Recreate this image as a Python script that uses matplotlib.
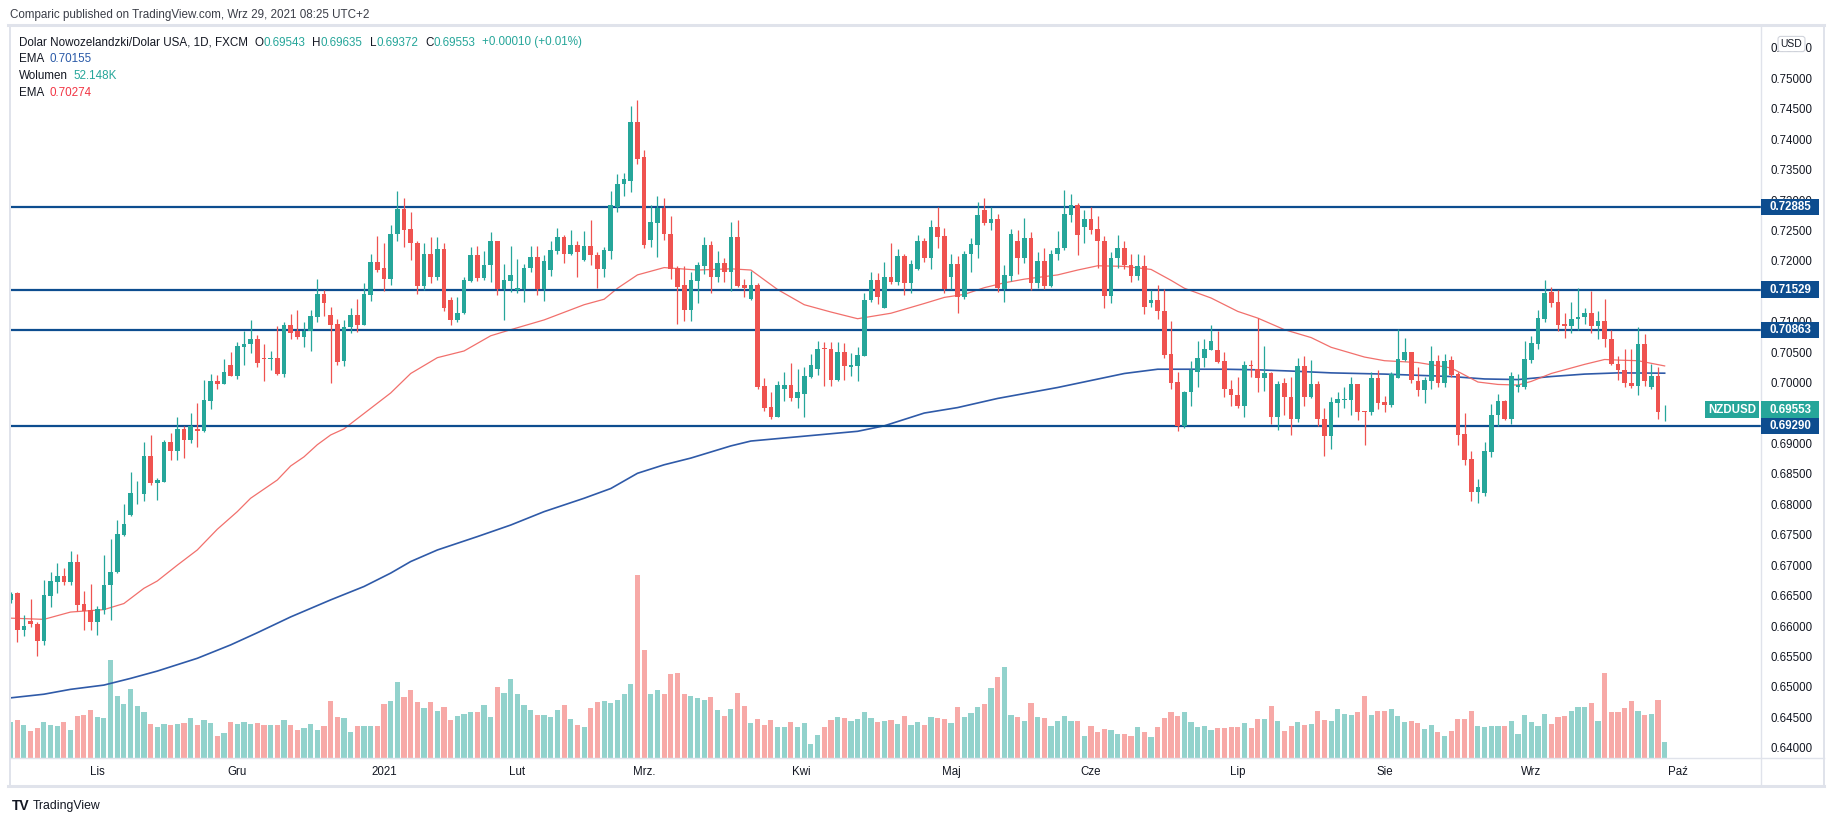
import numpy as np
import matplotlib
matplotlib.use("Agg")
import matplotlib.pyplot as plt
from matplotlib.lines import Line2D
from matplotlib.patches import Rectangle

plt.rcParams['font.family'] = ['Liberation Sans', 'DejaVu Sans']

# ---- data ----
# daily candles NZDUSD, mid Oct 2020 .. 29 Sep 2021
opens = [0.6642, 0.6655, 0.6594, 0.6608, 0.6603, 0.6576, 0.6650, 0.6673, 0.6683, 0.6673,
         0.6706, 0.6636, 0.6626, 0.6607, 0.6626, 0.6667, 0.6688, 0.6750, 0.6782, 0.6818,
         0.6817, 0.6879, 0.6835, 0.6837, 0.6902, 0.6888, 0.6924, 0.6906, 0.6923, 0.6921,
         0.6970, 0.7003, 0.6998, 0.7029, 0.7011, 0.7059, 0.7064, 0.7072, 0.7040, 0.7038,
         0.7040, 0.7014, 0.7095, 0.7084, 0.7075, 0.7084, 0.7108, 0.7146, 0.7111, 0.7096,
         0.7035, 0.7091, 0.7111, 0.7094, 0.7144, 0.7198, 0.7188, 0.7170, 0.7244, 0.7286,
         0.7252, 0.7229, 0.7159, 0.7211, 0.7174, 0.7220, 0.7136, 0.7103, 0.7115, 0.7167,
         0.7210, 0.7172, 0.7194, 0.7232, 0.7154, 0.7167, 0.7152, 0.7154, 0.7189, 0.7207,
         0.7154, 0.7185, 0.7216, 0.7239, 0.7211, 0.7226, 0.7202, 0.7224, 0.7210, 0.7187,
         0.7217, 0.7288, 0.7327, 0.7332, 0.7429, 0.7370, 0.7234, 0.7263, 0.7287, 0.7245,
         0.7188, 0.7160, 0.7120, 0.7167, 0.7192, 0.7226, 0.7173, 0.7196, 0.7182, 0.7239,
         0.7160, 0.7137, 0.7160, 0.6994, 0.6960, 0.6944, 0.6989, 0.6996, 0.6974, 0.6981,
         0.7010, 0.7022, 0.7056, 0.7055, 0.7004, 0.7051, 0.7025, 0.7027, 0.7044, 0.7135,
         0.7169, 0.7123, 0.7174, 0.7166, 0.7208, 0.7164, 0.7187, 0.7233, 0.7204, 0.7255,
         0.7241, 0.7174, 0.7195, 0.7140, 0.7212, 0.7226, 0.7284, 0.7263, 0.7269, 0.7153,
         0.7175, 0.7232, 0.7205, 0.7237, 0.7164, 0.7200, 0.7159, 0.7212, 0.7222, 0.7276,
         0.7292, 0.7255, 0.7269, 0.7252, 0.7233, 0.7143, 0.7204, 0.7222, 0.7193, 0.7176,
         0.7192, 0.7131, 0.7136, 0.7118, 0.7047, 0.7001, 0.6928, 0.6984, 0.7018, 0.7040,
         0.7054, 0.7054, 0.7036, 0.6989, 0.6980, 0.6962, 0.7028, 0.7023, 0.7008, 0.7016,
         0.6944, 0.7000, 0.6976, 0.6940, 0.7027, 0.6976, 0.6998, 0.6941, 0.6913, 0.6967,
         0.6972, 0.6972, 0.6998, 0.6953, 0.6952, 0.7007, 0.6968, 0.6963, 0.7008, 0.7037,
         0.7050, 0.7003, 0.6988, 0.7003, 0.7036, 0.7000, 0.7037, 0.7014, 0.6915, 0.6874,
         0.6821, 0.6819, 0.6886, 0.6946, 0.6970, 0.6940, 0.6992, 0.6993, 0.7037, 0.7063,
         0.7104, 0.7149, 0.7132, 0.7096, 0.7093, 0.7104, 0.7108, 0.7115, 0.7093, 0.7101,
         0.7072, 0.7030, 0.7021, 0.7000, 0.6995, 0.7063, 0.6992, 0.7011, 0.69543]
highs = [0.6656, 0.6656, 0.6618, 0.6645, 0.6606, 0.6676, 0.6688, 0.6704, 0.6695, 0.6724,
         0.6718, 0.6658, 0.6669, 0.6633, 0.6717, 0.6743, 0.6775, 0.6801, 0.6853, 0.6839,
         0.6903, 0.6914, 0.6843, 0.6906, 0.6917, 0.6944, 0.6928, 0.6950, 0.6966, 0.7004,
         0.7014, 0.7012, 0.7039, 0.7050, 0.7067, 0.7085, 0.7103, 0.7078, 0.7063, 0.7052,
         0.7093, 0.7099, 0.7113, 0.7119, 0.7099, 0.7119, 0.7170, 0.7152, 0.7124, 0.7104,
         0.7103, 0.7122, 0.7138, 0.7163, 0.7211, 0.7241, 0.7229, 0.7259, 0.7315, 0.7304,
         0.7281, 0.7233, 0.7230, 0.7239, 0.7239, 0.7229, 0.7140, 0.7140, 0.7174, 0.7223,
         0.7224, 0.7217, 0.7248, 0.7232, 0.7195, 0.7224, 0.7203, 0.7195, 0.7224, 0.7224,
         0.7210, 0.7232, 0.7254, 0.7242, 0.7251, 0.7233, 0.7249, 0.7267, 0.7214, 0.7223,
         0.7315, 0.7343, 0.7345, 0.7455, 0.7464, 0.7382, 0.7292, 0.7307, 0.7304, 0.7273,
         0.7192, 0.7192, 0.7182, 0.7199, 0.7239, 0.7233, 0.7217, 0.7204, 0.7264, 0.7268,
         0.7170, 0.7184, 0.7164, 0.7007, 0.6985, 0.7002, 0.7018, 0.7032, 0.7023, 0.7026,
         0.7047, 0.7069, 0.7067, 0.7067, 0.7067, 0.7065, 0.7048, 0.7058, 0.7148, 0.7181,
         0.7180, 0.7199, 0.7230, 0.7219, 0.7212, 0.7202, 0.7243, 0.7237, 0.7267, 0.7288,
         0.7254, 0.7211, 0.7208, 0.7216, 0.7237, 0.7297, 0.7304, 0.7288, 0.7277, 0.7193,
         0.7253, 0.7250, 0.7270, 0.7247, 0.7215, 0.7221, 0.7218, 0.7249, 0.7316, 0.7310,
         0.7295, 0.7284, 0.7288, 0.7273, 0.7241, 0.7215, 0.7243, 0.7233, 0.7212, 0.7211,
         0.7210, 0.7152, 0.7160, 0.7153, 0.7102, 0.7018, 0.6986, 0.7036, 0.7068, 0.7071,
         0.7095, 0.7085, 0.7050, 0.7005, 0.7009, 0.7036, 0.7037, 0.7106, 0.7060, 0.7018,
         0.7003, 0.7007, 0.7009, 0.7041, 0.7044, 0.7037, 0.7003, 0.6958, 0.6977, 0.6985,
         0.6992, 0.7010, 0.6998, 0.6954, 0.7018, 0.7021, 0.6978, 0.7018, 0.7088, 0.7073,
         0.7051, 0.7026, 0.7010, 0.7060, 0.7045, 0.7047, 0.7044, 0.7018, 0.6950, 0.6888,
         0.6841, 0.6902, 0.6965, 0.6981, 0.6971, 0.7018, 0.7014, 0.7069, 0.7077, 0.7119,
         0.7169, 0.7157, 0.7152, 0.7114, 0.7132, 0.7155, 0.7122, 0.7151, 0.7118, 0.7138,
         0.7086, 0.7044, 0.7055, 0.7055, 0.7092, 0.7080, 0.7031, 0.7025, 0.69635]
lows = [0.6638, 0.6573, 0.6584, 0.6599, 0.6550, 0.6569, 0.6632, 0.6654, 0.6667, 0.6667,
        0.6624, 0.6594, 0.6594, 0.6585, 0.6620, 0.6610, 0.6687, 0.6748, 0.6781, 0.6801,
        0.6806, 0.6832, 0.6807, 0.6836, 0.6873, 0.6873, 0.6876, 0.6901, 0.6895, 0.6919,
        0.6957, 0.6990, 0.6998, 0.7011, 0.7006, 0.7029, 0.7049, 0.7026, 0.7003, 0.7021,
        0.7013, 0.7009, 0.7072, 0.7072, 0.7058, 0.7052, 0.7100, 0.7109, 0.7000, 0.7029,
        0.7028, 0.7081, 0.7083, 0.7094, 0.7134, 0.7181, 0.7151, 0.7160, 0.7233, 0.7223,
        0.7202, 0.7145, 0.7152, 0.7163, 0.7169, 0.7117, 0.7094, 0.7100, 0.7112, 0.7165,
        0.7167, 0.7169, 0.7165, 0.7144, 0.7103, 0.7149, 0.7148, 0.7133, 0.7182, 0.7144,
        0.7134, 0.7176, 0.7212, 0.7197, 0.7210, 0.7174, 0.7200, 0.7194, 0.7156, 0.7174,
        0.7203, 0.7280, 0.7306, 0.7313, 0.7359, 0.7221, 0.7223, 0.7207, 0.7235, 0.7171,
        0.7097, 0.7102, 0.7102, 0.7130, 0.7178, 0.7148, 0.7166, 0.7166, 0.7151, 0.7157,
        0.7141, 0.7136, 0.6989, 0.6954, 0.6941, 0.6944, 0.6969, 0.6969, 0.6959, 0.6944,
        0.7007, 0.7013, 0.6995, 0.6994, 0.7002, 0.7005, 0.7011, 0.7002, 0.7043, 0.7133,
        0.7129, 0.7122, 0.7162, 0.7160, 0.7144, 0.7148, 0.7185, 0.7199, 0.7187, 0.7221,
        0.7148, 0.7153, 0.7114, 0.7137, 0.7182, 0.7204, 0.7259, 0.7250, 0.7149, 0.7133,
        0.7167, 0.7178, 0.7196, 0.7152, 0.7155, 0.7153, 0.7157, 0.7202, 0.7218, 0.7264,
        0.7210, 0.7230, 0.7244, 0.7189, 0.7123, 0.7131, 0.7189, 0.7186, 0.7166, 0.7168,
        0.7113, 0.7124, 0.7104, 0.7041, 0.6989, 0.6921, 0.6926, 0.6961, 0.6993, 0.7026,
        0.7053, 0.7032, 0.6977, 0.6962, 0.6958, 0.6944, 0.7010, 0.6985, 0.6987, 0.6932,
        0.6922, 0.6946, 0.6914, 0.6936, 0.6961, 0.6974, 0.6928, 0.6879, 0.6891, 0.6944,
        0.6959, 0.6946, 0.6938, 0.6898, 0.6946, 0.6957, 0.6951, 0.6960, 0.7008, 0.7036,
        0.6999, 0.6978, 0.6967, 0.6989, 0.6992, 0.6992, 0.7009, 0.6898, 0.6865, 0.6806,
        0.6803, 0.6814, 0.6877, 0.6929, 0.6938, 0.6932, 0.6985, 0.6989, 0.7033, 0.7055,
        0.7100, 0.7125, 0.7085, 0.7074, 0.7081, 0.7086, 0.7096, 0.7081, 0.7071, 0.7058,
        0.7029, 0.7004, 0.6992, 0.6991, 0.6979, 0.6995, 0.6989, 0.6940, 0.69372]
closes = [0.6653, 0.6594, 0.6600, 0.6603, 0.6576, 0.6651, 0.6674, 0.6683, 0.6673, 0.6706,
          0.6635, 0.6624, 0.6607, 0.6628, 0.6667, 0.6688, 0.6751, 0.6768, 0.6819, 0.6819,
          0.6879, 0.6835, 0.6840, 0.6902, 0.6888, 0.6924, 0.6906, 0.6928, 0.6921, 0.6971,
          0.7003, 0.6998, 0.7017, 0.7011, 0.7060, 0.7064, 0.7072, 0.7033, 0.7038, 0.7040,
          0.7014, 0.7095, 0.7082, 0.7075, 0.7085, 0.7109, 0.7146, 0.7131, 0.7095, 0.7034,
          0.7091, 0.7111, 0.7094, 0.7146, 0.7198, 0.7185, 0.7170, 0.7245, 0.7286, 0.7251,
          0.7229, 0.7159, 0.7211, 0.7174, 0.7220, 0.7123, 0.7103, 0.7115, 0.7169, 0.7210,
          0.7172, 0.7194, 0.7232, 0.7154, 0.7169, 0.7177, 0.7156, 0.7189, 0.7207, 0.7154,
          0.7200, 0.7218, 0.7239, 0.7211, 0.7226, 0.7214, 0.7224, 0.7209, 0.7187, 0.7218,
          0.7292, 0.7327, 0.7334, 0.7429, 0.7367, 0.7226, 0.7264, 0.7287, 0.7244, 0.7186,
          0.7157, 0.7120, 0.7169, 0.7193, 0.7226, 0.7173, 0.7196, 0.7182, 0.7239, 0.7159,
          0.7156, 0.7160, 0.6993, 0.6959, 0.6944, 0.6996, 0.6996, 0.6974, 0.6984, 0.7011,
          0.7029, 0.7056, 0.7055, 0.7004, 0.7051, 0.7027, 0.7029, 0.7045, 0.7136, 0.7169,
          0.7141, 0.7174, 0.7166, 0.7208, 0.7164, 0.7195, 0.7233, 0.7204, 0.7255, 0.7240,
          0.7153, 0.7195, 0.7140, 0.7212, 0.7228, 0.7275, 0.7263, 0.7269, 0.7155, 0.7177,
          0.7244, 0.7205, 0.7237, 0.7164, 0.7200, 0.7159, 0.7212, 0.7222, 0.7277, 0.7292,
          0.7242, 0.7269, 0.7251, 0.7232, 0.7143, 0.7205, 0.7222, 0.7193, 0.7176, 0.7192,
          0.7125, 0.7136, 0.7117, 0.7045, 0.7000, 0.6928, 0.6984, 0.7020, 0.7040, 0.7055,
          0.7068, 0.7034, 0.6989, 0.6979, 0.6962, 0.7029, 0.7027, 0.7008, 0.7016, 0.6944,
          0.6998, 0.6976, 0.6940, 0.7027, 0.6976, 0.6998, 0.6941, 0.6913, 0.6968, 0.6973,
          0.6973, 0.6998, 0.6952, 0.6952, 0.7007, 0.6967, 0.6963, 0.7014, 0.7039, 0.7050,
          0.7004, 0.6988, 0.7004, 0.7036, 0.7000, 0.7036, 0.7012, 0.6914, 0.6873, 0.6821,
          0.6828, 0.6888, 0.6947, 0.6970, 0.6940, 0.7011, 0.6996, 0.7039, 0.7065, 0.7106,
          0.7148, 0.7131, 0.7095, 0.7093, 0.7104, 0.7107, 0.7115, 0.7093, 0.7101, 0.7071,
          0.7030, 0.7020, 0.7000, 0.6995, 0.7063, 0.7003, 0.7011, 0.6952, 0.69553]
# volume in thousands
volume = [118, 127, 111, 91, 101, 121, 111, 105, 121, 94,
          141, 144, 161, 135, 132, 327, 207, 180, 230, 172,
          152, 114, 102, 114, 108, 114, 117, 134, 111, 127,
          117, 72, 84, 121, 114, 121, 114, 117, 111, 111,
          111, 127, 111, 94, 101, 114, 94, 107, 190, 135,
          132, 87, 105, 105, 107, 107, 180, 190, 254, 204,
          227, 187, 167, 187, 157, 170, 127, 141, 147, 154,
          154, 177, 135, 237, 216, 263, 214, 177, 161, 144,
          144, 135, 161, 177, 131, 111, 102, 167, 187, 190,
          184, 194, 214, 247, 609, 360, 214, 227, 214, 280,
          283, 214, 207, 200, 194, 204, 161, 141, 164, 217,
          174, 117, 131, 111, 127, 104, 104, 121, 104, 117,
          45, 77, 104, 127, 137, 134, 124, 131, 154, 134,
          121, 124, 127, 114, 141, 111, 121, 111, 137, 134,
          131, 117, 170, 137, 151, 170, 180, 234, 270, 303,
          144, 137, 124, 184, 137, 134, 107, 124, 141, 124,
          124, 74, 107, 87, 97, 94, 81, 81, 74, 104,
          87, 71, 104, 134, 154, 141, 154, 121, 104, 107,
          94, 101, 101, 104, 104, 117, 101, 131, 131, 174,
          124, 91, 107, 121, 111, 114, 157, 127, 124, 164,
          147, 144, 154, 207, 144, 157, 157, 164, 141, 121,
          124, 117, 97, 111, 87, 74, 91, 131, 131, 157,
          107, 104, 107, 107, 107, 124, 81, 144, 121, 107,
          147, 114, 137, 141, 157, 170, 170, 184, 124, 283,
          154, 154, 167, 190, 157, 144, 147, 194, 52.148]

# EMA 50 (red) and EMA 200 (blue), read at bar indices
ema50_idx = [0, 5, 9, 14, 17, 20, 22, 25, 28, 31, 34, 36, 40, 42, 44, 46, 48, 50, 57, 60,
             64, 68, 72, 75, 80, 86, 89, 91, 94, 98, 103, 108, 111, 115, 119, 123, 127, 132,
             137, 140, 143, 146, 149, 152, 157, 160, 163, 167, 171, 174, 176, 180, 184, 187,
             191, 195, 198, 203, 206, 211, 216, 220, 223, 226, 228, 231, 236, 239, 241, 244, 248]
ema50_val = [0.6613, 0.6611, 0.6623, 0.6627, 0.6637, 0.6662, 0.6674, 0.6700, 0.6725, 0.6759,
             0.6788, 0.6810, 0.6840, 0.6863, 0.6878, 0.6898, 0.6914, 0.6924, 0.6983, 0.7015,
             0.7041, 0.7052, 0.7077, 0.7087, 0.7103, 0.7128, 0.7137, 0.7155, 0.7177, 0.7189,
             0.7185, 0.7187, 0.7185, 0.7153, 0.7128, 0.7116, 0.7105, 0.7114, 0.7130, 0.7140,
             0.7145, 0.7156, 0.7164, 0.7170, 0.7177, 0.7185, 0.7192, 0.7191, 0.7186, 0.7168,
             0.7155, 0.7139, 0.7117, 0.7106, 0.7087, 0.7074, 0.7058, 0.7042, 0.7036, 0.7033,
             0.7024, 0.7001, 0.6997, 0.6996, 0.7002, 0.7015, 0.7030, 0.7038, 0.7037, 0.7036,
             0.70274]
ema200_idx = [0, 5, 9, 14, 18, 22, 28, 33, 37, 42, 48, 53, 57, 60, 64, 70, 75, 80, 86, 90,
              94, 98, 102, 108, 111, 118, 127, 131, 137, 142, 148, 157, 167, 172, 177, 182,
              187, 192, 198, 206, 216, 221, 226, 231, 236, 241, 248]
ema200_val = [0.6482, 0.6488, 0.6496, 0.6503, 0.6514, 0.6526, 0.6547, 0.6569, 0.6589, 0.6615,
              0.6643, 0.6665, 0.6687, 0.6706, 0.6725, 0.6747, 0.6766, 0.6788, 0.6810, 0.6826,
              0.6851, 0.6865, 0.6876, 0.6896, 0.6904, 0.6911, 0.6920, 0.6929, 0.6950, 0.6959,
              0.6974, 0.6992, 0.7015, 0.7022, 0.7022, 0.7022, 0.7021, 0.7019, 0.7016, 0.7014,
              0.7010, 0.7006, 0.7005, 0.7010, 0.7014, 0.7016, 0.70155]

levels = [0.72885, 0.71529, 0.70863, 0.69290]
month_idx = [13, 34, 56, 76, 95, 118.5, 141, 162, 184, 206, 228, 250]
month_lbl = ['Lis', 'Gru', '2021', 'Lut', 'Mrz.', 'Kwi', 'Maj', 'Cze', 'Lip', 'Sie', 'Wrz', 'Paź']
price_ticks = np.arange(0.640, 0.7551, 0.005)

# ---- colours ----
GREEN = '#26a69a'
RED = '#ef5350'
VGREEN = '#92d2cc'
VRED = '#f7a9a7'
LEVEL = '#0d4d8f'
FRAME = '#e0e3eb'
TXT = '#131722'

W, H = 1834, 821
fig = plt.figure(figsize=(W / 100, H / 100), dpi=100)
fig.patch.set_facecolor('white')

def fx(px):
    return px / W

def fy(py):
    return 1 - py / H

ax_l, ax_r, ax_t, ax_b = 10.5, 1760.7, 25, 758
ax = fig.add_axes([fx(ax_l), fy(ax_b), fx(ax_r - ax_l), (ax_b - ax_t) / H])
vax = ax.twinx()

o = np.array(opens); h = np.array(highs); l = np.array(lows); c = np.array(closes)
x = np.arange(len(o))
up = c >= o

# volume overlay
vax.bar(x, volume, width=0.78, color=np.where(up, VGREEN, VRED), linewidth=0)
vax.set_ylim(0, 2434)
vax.set_yticks([])
for s in vax.spines.values():
    s.set_visible(False)

ax.set_zorder(vax.get_zorder() + 1)
ax.patch.set_visible(False)

# EMAs
ax.plot(ema200_idx, ema200_val, color='#2f5aa8', lw=1.2, zorder=2)
ax.plot(ema50_idx, ema50_val, color='#f0605c', lw=0.9, alpha=0.9, zorder=2)

# horizontal levels
for lv in levels:
    ax.axhline(lv, color=LEVEL, lw=1.6, zorder=3)

# candles
cols = np.where(up, GREEN, RED)
ax.vlines(x, l, h, colors=cols, lw=0.9, zorder=4)
body_lo = np.minimum(o, c)
body_h = np.maximum(np.abs(c - o), 0.00012)
ax.bar(x, body_h, bottom=body_lo, width=0.7, color=cols, linewidth=0, zorder=5)

ax.set_xlim(0.0, 262.4)
ax.set_ylim(0.63832, 0.75876)
for s in ax.spines.values():
    s.set_visible(False)

ax.yaxis.tick_right()
ax.set_yticks(price_ticks)
ax.set_yticklabels(['%.5f' % t for t in price_ticks])
ax.tick_params(axis='y', length=0, pad=7, labelsize=8.3, labelcolor=TXT)
ax.set_xticks(month_idx)
ax.set_xticklabels(month_lbl)
ax.tick_params(axis='x', length=0, pad=6, labelsize=8.3, labelcolor=TXT)

# price boxes on the right scale (fixed pixel size, covering the tick labels below)
def price_box(val, text, x0, x1, col):
    ypx = ax.transData.transform((0, val))[1]
    fig.add_artist(Rectangle((fx(x0), (ypx - 8.4) / H), fx(x1 - x0), 16.8 / H,
                             transform=fig.transFigure, fc=col, ec='none', zorder=5))
    fig.text(fx((x0 + x1) / 2), ypx / H, text, ha='center', va='center', fontsize=8.3,
             fontweight='bold', color='white', zorder=6)

for lv in levels:
    price_box(lv, '%.5f' % lv, 1761, 1819, LEVEL)
last = closes[-1]
price_box(last, '%.5f' % last, 1761, 1819, GREEN)
price_box(last, 'NZDUSD', 1705, 1759, GREEN)

# frame lines
def hline(py, x0, x1, lw=1.0, col=FRAME):
    fig.add_artist(Line2D([fx(x0), fx(x1)], [fy(py), fy(py)], color=col, lw=lw))

def vline(px, y0, y1, lw=1.0, col=FRAME):
    fig.add_artist(Line2D([fx(px), fx(px)], [fy(y0), fy(y1)], color=col, lw=lw))

hline(25, 8, 1824, lw=2.2)
hline(758, 9.5, 1824)
hline(786, 8, 1824, lw=2.2)
vline(9.5, 25, 786, lw=1.4)
vline(1761, 25, 786)
vline(1823.5, 25, 786, lw=1.4)

# USD button
fig.text(fx(1791.5), fy(44), 'USD', ha='center', va='center', fontsize=7.5, color=TXT, zorder=6,
         bbox=dict(boxstyle='round,pad=0.25', fc='white', ec='#d1d4dc', lw=0.8))

# header and legend
fig.text(fx(10), fy(15), 'Comparic published on TradingView.com, Wrz 29, 2021 08:25 UTC+2',
         ha='left', va='center', fontsize=8.4, color='#3b3e48')

renderer = fig.canvas.get_renderer()

def segments(px, py, parts):
    cur = px
    for txt, col, gap in parts:
        t = fig.text(fx(cur), fy(py), txt, ha='left', va='center', fontsize=8.4, color=col)
        bb = t.get_window_extent(renderer)
        cur = bb.x1 + gap

segments(18.6, 42.5, [('Dolar Nowozelandzki/Dolar USA, 1D, FXCM', TXT, 7),
                      ('O', TXT, 0), ('0.69543', GREEN, 7),
                      ('H', TXT, 0), ('0.69635', GREEN, 7),
                      ('L', TXT, 0), ('0.69372', GREEN, 7),
                      ('C', TXT, 0), ('0.69553', GREEN, 7),
                      ('+0.00010 (+0.01%)', GREEN, 0)])
segments(18.6, 59, [('EMA', TXT, 6), ('0.70155', '#2a5aa8', 0)])
segments(18.6, 76, [('Wolumen', TXT, 6), ('52.148K', GREEN, 0)])
segments(18.6, 92.5, [('EMA', TXT, 6), ('0.70274', '#f23645', 0)])

# footer logo
fig.text(fx(12), fy(806), 'TV', ha='left', va='center', fontsize=10, fontweight='bold', color=TXT)
fig.text(fx(33), fy(806), 'TradingView', ha='left', va='center', fontsize=8.8, color=TXT)

fig.savefig('out.png', dpi=100, facecolor='white')
